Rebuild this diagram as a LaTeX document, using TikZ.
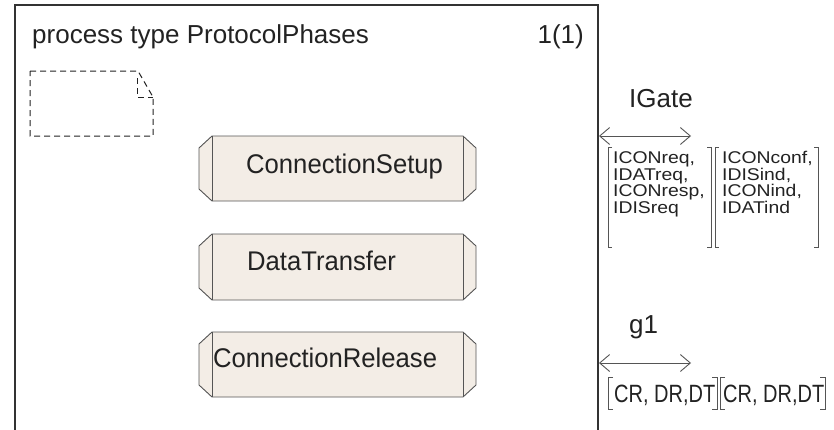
\documentclass[tikz,border=0pt]{standalone}
\usepackage{fontspec}
\setmainfont{Liberation Sans}
\usetikzlibrary{arrows.meta}
\definecolor{boxfill}{HTML}{F3EDE6}
\definecolor{ink}{HTML}{222222}
\definecolor{frameline}{HTML}{333333}
\definecolor{boxline}{HTML}{555555}
\definecolor{arrowline}{HTML}{555555}
\definecolor{brline}{HTML}{555555}
\newcommand{\hsc}[2]{\scalebox{#1}[1]{#2}}
\begin{document}
\begin{tikzpicture}[x=1pt,y=-1pt,
  txt/.style={inner sep=0pt, text=ink, anchor=base west},
  bigtxt/.style={txt, font=\fontsize{26}{30}\selectfont},
  phasetxt/.style={txt, font=\fontsize{27}{30}\selectfont},
  sigtxt/.style={txt, font=\fontsize{17}{15}\selectfont},
  chtxt/.style={txt, font=\fontsize{25}{30}\selectfont},
  frameline/.style={draw=frameline, line width=1.3pt},
  notebox/.style={draw=ink, line width=1pt, dash pattern=on 6pt off 4pt},
  phasebox/.style={draw=boxline, fill=boxfill, line width=0.9pt},
  phaseside/.style={draw=boxline, line width=0.9pt},
  gatearrow/.style={draw=arrowline, line width=0.9pt,
    {Straight Barb[length=10pt,width=17pt]}-{Straight Barb[length=10pt,width=17pt]}},
  brk/.style={draw=brline, line width=0.9pt}]
\useasboundingbox (0,0) rectangle (834,429);

% frame
\draw[frameline] (15,430) -- (15,5) -- (598,5) -- (598,430);
\node[bigtxt] (title) at (32,43) {process type ProtocolPhases};
\node[bigtxt, anchor=base east] (page) at (584,43) {1(1)};

% dashed text symbol
\draw[notebox] (30,71) -- (138,71) -- (153,97) -- (153,136) -- (30,136) -- cycle;
\draw[notebox] (137,78) -- (137,97) -- (153,97);

% state/procedure boxes
\filldraw[phasebox] (212,136) -- (463,136) -- (476,148) -- (476,189) -- (463,201) -- (212,201) -- (199,189) -- (199,148) -- cycle;
\draw[phaseside] (212,136) -- (212,201) (463,136) -- (463,201);
\node[phasetxt] (setup) at (246,173) {\hsc{0.95}{ConnectionSetup}};

\filldraw[phasebox] (212,234) -- (463,234) -- (476,246) -- (476,288) -- (463,300) -- (212,300) -- (199,288) -- (199,246) -- cycle;
\draw[phaseside] (212,234) -- (212,300) (463,234) -- (463,300);
\node[phasetxt] (transfer) at (247,270) {\hsc{0.95}{DataTransfer}};

\filldraw[phasebox] (212,332) -- (463,332) -- (476,344) -- (476,385) -- (463,397) -- (212,397) -- (199,385) -- (199,344) -- cycle;
\draw[phaseside] (212,332) -- (212,397) (463,332) -- (463,397);
\node[phasetxt] (release) at (213,367) {\hsc{0.95}{ConnectionRelease}};

% gate IGate
\node[bigtxt] (igate) at (629,107) {IGate};
\coordinate (igA) at (599,136);
\coordinate (igB) at (691,136);
\draw[gatearrow] (igA) -- (igB);
\draw[brk] (612,147) -- (608,147) -- (608,247) -- (612,247);
\draw[brk] (707,147) -- (711,147) -- (711,247) -- (707,247);
\draw[brk] (719,147) -- (715,147) -- (715,247) -- (719,247);
\draw[brk] (814,147) -- (818,147) -- (818,247) -- (814,247);
\node[sigtxt] (s1a) at (613,163.5) {\hsc{1.14}{ICONreq,}};
\node[sigtxt] (s1b) at (613,180) {\hsc{1.14}{IDATreq,}};
\node[sigtxt] (s1c) at (613,196.5) {\hsc{1.14}{ICONresp,}};
\node[sigtxt] (s1d) at (613,213) {\hsc{1.14}{IDISreq}};
\node[sigtxt] (s2a) at (722,163.5) {\hsc{1.14}{ICONconf,}};
\node[sigtxt] (s2b) at (722,180) {\hsc{1.14}{IDISind,}};
\node[sigtxt] (s2c) at (722,196.5) {\hsc{1.14}{ICONind,}};
\node[sigtxt] (s2d) at (722,213) {\hsc{1.14}{IDATind}};

% gate g1
\node[bigtxt] (g1) at (629,333) {g1};
\coordinate (g1A) at (599,363);
\coordinate (g1B) at (691,363);
\draw[gatearrow] (g1A) -- (g1B);
\draw[brk] (613,377) -- (608,377) -- (608,409) -- (613,409);
\draw[brk] (712,377) -- (717,377) -- (717,409) -- (712,409);
\draw[brk] (725,377) -- (720,377) -- (720,409) -- (725,409);
\draw[brk] (820,377) -- (825,377) -- (825,409) -- (820,409);
\node[chtxt] (c1) at (614,402) {\hsc{0.8}{CR, DR,DT}};
\node[chtxt] (c2) at (723,402) {\hsc{0.8}{CR, DR,DT}};
\end{tikzpicture}
\end{document}
